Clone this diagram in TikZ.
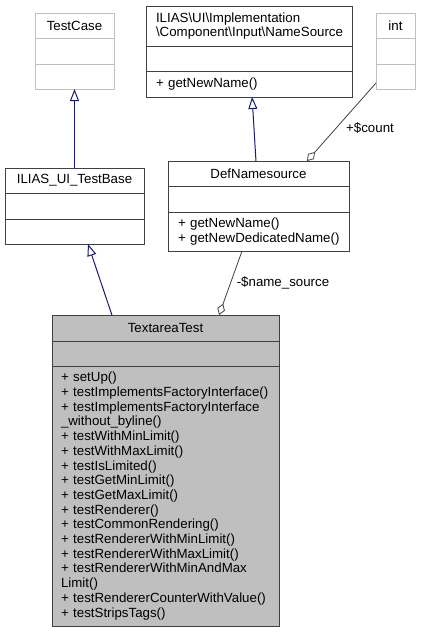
\documentclass[tikz,border=0pt]{standalone}
\usepackage{fontspec}
\setmainfont{Liberation Sans}
\usetikzlibrary{positioning,arrows.meta,calc}
\definecolor{edgegray}{HTML}{404040}
\definecolor{boxgray}{HTML}{BFBFBF}
\definecolor{inheritblue}{HTML}{191970}
\newcommand{\umlfont}{\fontsize{13.3}{14.7}\selectfont\hyphenpenalty=10000\exhyphenpenalty=10000}

\begin{document}
\begin{tikzpicture}[x=1pt,y=-1pt]
  \tikzset{ClassStyle/.style     = {draw           = edgegray,
                                    line width     = 1pt,
                                    fill           = white,
                                    inner xsep     = 10pt,
                                    inner ysep     = 3pt,
                                    outer sep      = 0pt,
                                    font           = \umlfont}}
  \tikzset{ClassStyleGrey/.style = {ClassStyle,
                                    draw           = boxgray}}
  \tikzset{MemberStyle/.style    = {align          = left}}
  \tikzset{LabelStyle/.style     = {inner sep      = 1pt,
                                    font           = \umlfont}}
  \tikzset{EdgeStyleInherit/.style = {draw         = inheritblue,
                                    line width     = 1pt,
                                    -{Triangle[open, length=12pt, width=9pt]}}}
  \tikzset{EdgeStyleUse/.style   = {draw           = edgegray,
                                    line width     = 0.8pt,
                                    -{Diamond[open, length=12pt, width=8pt]}}}

\useasboundingbox (0,0) rectangle (421,632);

% TestCase
\node[ClassStyleGrey, minimum width=79pt, minimum height=25pt, anchor=north west] (testcase) at (35,13) {TestCase};
\node[ClassStyleGrey, minimum width=79pt, minimum height=26pt, below=0pt of testcase] (testcase-attr) {};
\node[ClassStyleGrey, minimum width=79pt, minimum height=25pt, below=0pt of testcase-attr] (testcase-meth) {};

% NameSource interface
\node[ClassStyle, MemberStyle, text width=186pt, minimum height=40pt, anchor=north west] (namesource) at (146,6)
  {ILIAS\textbackslash UI\textbackslash Implementation\\\textbackslash Component\textbackslash Input\textbackslash NameSource};
\node[ClassStyle, minimum width=206pt, minimum height=25pt, below=0pt of namesource] (namesource-attr) {};
\node[ClassStyle, MemberStyle, text width=186pt, minimum height=26pt, below=0pt of namesource-attr] (namesource-meth) {+~getNewName()};

% int
\node[ClassStyleGrey, minimum width=39pt, minimum height=25pt, inner xsep=2pt, anchor=north west] (int) at (376,13) {int};
\node[ClassStyleGrey, minimum width=39pt, minimum height=26pt, below=0pt of int] (int-attr) {};
\node[ClassStyleGrey, minimum width=39pt, minimum height=25pt, below=0pt of int-attr] (int-meth) {};

% ILIAS_UI_TestBase
\node[ClassStyle, minimum width=139pt, minimum height=25pt, anchor=north west] (testbase) at (5,168) {ILIAS\_UI\_TestBase};
\node[ClassStyle, minimum width=139pt, minimum height=26pt, below=0pt of testbase] (testbase-attr) {};
\node[ClassStyle, minimum width=139pt, minimum height=25pt, below=0pt of testbase-attr] (testbase-meth) {};

% DefNamesource
\node[ClassStyle, minimum width=181pt, minimum height=25pt, anchor=north west] (defname) at (168,161) {DefNamesource};
\node[ClassStyle, minimum width=181pt, minimum height=26pt, below=0pt of defname] (defname-attr) {};
\node[ClassStyle, MemberStyle, text width=161pt, minimum height=39pt, below=0pt of defname-attr] (defname-meth)
  {+~getNewName()\\+~getNewDedicatedName()};

% TextareaTest
\node[ClassStyle, fill=boxgray, minimum width=227pt, minimum height=26pt, anchor=north west] (textarea) at (52,315) {TextareaTest};
\node[ClassStyle, fill=boxgray, minimum width=227pt, minimum height=25pt, below=0pt of textarea] (textarea-attr) {};
\node[ClassStyle, MemberStyle, fill=boxgray, inner xsep=9pt, text width=209pt, minimum height=260pt, below=0pt of textarea-attr] (textarea-meth)
  {+~setUp()\\
   +~testImplementsFactoryInterface()\\
   +~testImplementsFactoryInterface\\
   \_without\_byline()\\
   +~testWithMinLimit()\\
   +~testWithMaxLimit()\\
   +~testIsLimited()\\
   +~testGetMinLimit()\\
   +~testGetMaxLimit()\\
   +~testRenderer()\\
   +~testCommonRendering()\\
   +~testRendererWithMinLimit()\\
   +~testRendererWithMaxLimit()\\
   +~testRendererWithMinAndMax\\
   Limit()\\
   +~testRendererCounterWithValue()\\
   +~testStripsTags()};

% connectors
\draw[EdgeStyleInherit] (testbase.north) -- (testcase-meth.south);
\draw[EdgeStyleInherit] ($(textarea.north west)!0.264!(textarea.north east)$) -- ($(testbase-meth.south west)!0.597!(testbase-meth.south east)$);
\draw[EdgeStyleInherit] ($(defname.north west)!0.486!(defname.north east)$) -- ($(namesource-meth.south west)!0.515!(namesource-meth.south east)$);
\draw[EdgeStyleUse] ($(int-meth.north west)!0.76!(int-meth.south west)$) -- ($(defname.north west)!0.768!(defname.north east)$);
\draw[EdgeStyleUse] ($(defname-meth.south west)!0.409!(defname-meth.south east)$) -- ($(textarea.north west)!0.736!(textarea.north east)$);

\node[LabelStyle] (count-label) at (370,128) {+\$count};
\node[LabelStyle] (source-label) at (283,283) {-\$name\_source};
\end{tikzpicture}
\end{document}
